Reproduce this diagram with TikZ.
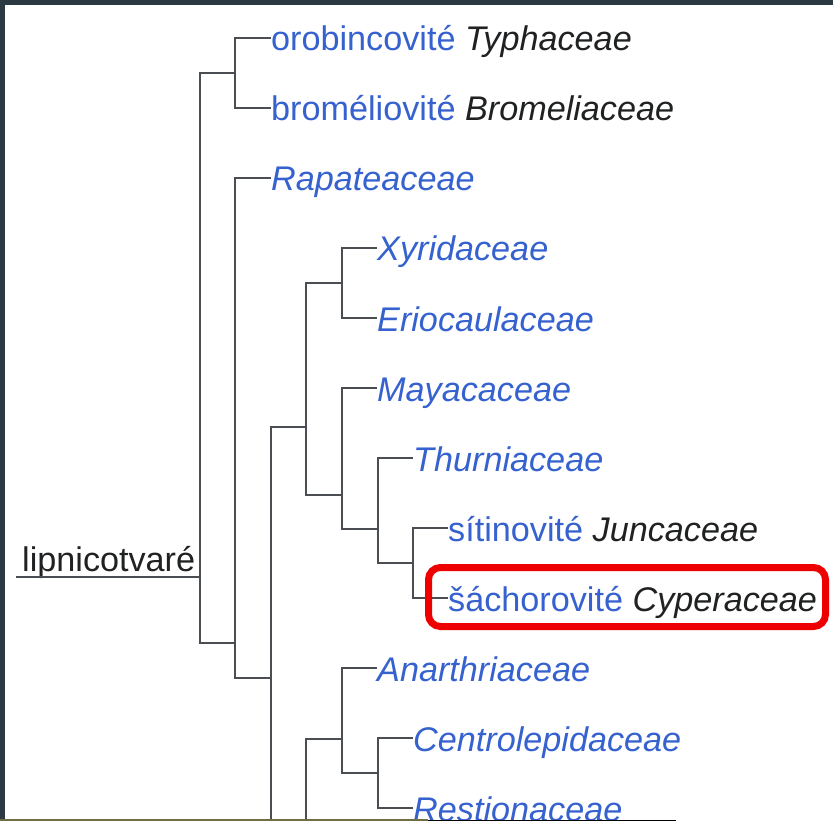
\documentclass[tikz,border=0pt]{standalone}
\usepackage{fontspec}
\setmainfont{Liberation Sans}
\usetikzlibrary{calc}
\definecolor{linkblue}{HTML}{3662CF}
\definecolor{inkblack}{HTML}{202122}
\definecolor{treegray}{HTML}{4A4E52}
\definecolor{markred}{HTML}{EE0000}
\definecolor{framedark}{HTML}{2B3A42}
\definecolor{photoolive}{HTML}{6F6E45}
\tikzset{
  leafnode/.style={anchor=base west,inner sep=0pt,font=\fontsize{34.2}{40}\selectfont,text=linkblue},
  rootnode/.style={anchor=base west,inner sep=0pt,font=\fontsize{34.2}{40}\selectfont,text=inkblack},
  treeline/.style={draw=treegray,line width=1.8pt},
  markbox/.style={draw=markred,line width=7pt,rounded corners=12pt},
}
\newcommand{\latinname}[1]{{\color{inkblack}\itshape #1}}
\newcommand{\cladename}[1]{{\itshape #1}}

\begin{document}
\begin{tikzpicture}[x=1pt,y=-1pt]
  \useasboundingbox (0,0) rectangle (833,821);
  \fill[white] (0,0) rectangle (833,821);
  \fill[framedark] (0,0) rectangle (833,5);
  \fill[framedark] (0,0) rectangle (5,821);
  % leaf tips
  \coordinate (t1) at (271,38);
  \coordinate (t2) at (271,108);
  \coordinate (t3) at (271,178);
  \coordinate (t4) at (377,248);
  \coordinate (t5) at (377,318);
  \coordinate (t6) at (377,388);
  \coordinate (t7) at (413,458);
  \coordinate (t8) at (448,528);
  \coordinate (t9) at (448,598);
  \coordinate (t10) at (377,668);
  \coordinate (t11) at (413,738);
  \coordinate (t12) at (413,808);
  % inner junctions
  \coordinate (r) at (200,577);
  \coordinate (a) at (235,73);
  \coordinate (b) at (235,643);
  \coordinate (c) at (271,678);
  \coordinate (d) at (306,427);
  \coordinate (e) at (342,283);
  \coordinate (f) at (342,495);
  \coordinate (g) at (378,529);
  \coordinate (h) at (413,563);
  \coordinate (j) at (342,739);
  \coordinate (k) at (378,773);
  \coordinate (rootend) at (16,577);
  \coordinate (cend) at (271,821);
  \coordinate (iend) at (306,821);
  % labels
  \node[rootnode] (root) at (22,571) {lipnicotvaré};
  \node[leafnode] (typha) at ($(t1)+(0,13)$) {orobincovité \latinname{Typhaceae}};
  \node[leafnode] (brom) at ($(t2)+(0,13)$) {broméliovité \latinname{Bromeliaceae}};
  \node[leafnode] (rapa) at ($(t3)+(0,13)$) {\cladename{Rapateaceae}};
  \node[leafnode] (xyri) at ($(t4)+(0,13)$) {\cladename{Xyridaceae}};
  \node[leafnode] (erio) at ($(t5)+(0,13)$) {\cladename{Eriocaulaceae}};
  \node[leafnode] (maya) at ($(t6)+(0,13)$) {\cladename{Mayacaceae}};
  \node[leafnode] (thur) at ($(t7)+(0,13)$) {\cladename{Thurniaceae}};
  \node[leafnode] (junc) at ($(t8)+(0,13)$) {sítinovité \latinname{Juncaceae}};
  \node[leafnode] (cype) at ($(t9)+(0,13)$) {šáchorovité \latinname{Cyperaceae}};
  \node[leafnode] (anar) at ($(t10)+(0,13)$) {\cladename{Anarthriaceae}};
  \node[leafnode] (cent) at ($(t11)+(0,13)$) {\cladename{Centrolepidaceae}};
  \node[leafnode] (rest) at ($(t12)+(0,13)$) {\cladename{Restionaceae}};
  % tree
  \draw[treeline] (rootend) -- (r);
  \draw[treeline] (a) -| (r); \draw[treeline] (b) -| (r);
  \draw[treeline] (t1) -| (a); \draw[treeline] (t2) -| (a);
  \draw[treeline] (t3) -| (b); \draw[treeline] (c) -| (b);
  \draw[treeline] (d) -| (c); \draw[treeline] (c) -- (cend);
  \draw[treeline] (e) -| (d); \draw[treeline] (f) -| (d);
  \draw[treeline] (t4) -| (e); \draw[treeline] (t5) -| (e);
  \draw[treeline] (t6) -| (f); \draw[treeline] (g) -| (f);
  \draw[treeline] (t7) -| (g); \draw[treeline] (h) -| (g);
  \draw[treeline] (t8) -| (h); \draw[treeline] (t9) -| (h);
  \draw[treeline] (j) -| (iend);
  \draw[treeline] (t10) -| (j); \draw[treeline] (k) -| (j);
  \draw[treeline] (t11) -| (k); \draw[treeline] (t12) -| (k);
  % highlight
  \draw[markbox] (428.5,567.5) rectangle (825.5,626.5);
  % cut-off strip at the bottom
  \fill[photoolive] (0,819) rectangle (428,821);
  \fill[black] (428,820) rectangle (676,821);
\end{tikzpicture}
\end{document}
